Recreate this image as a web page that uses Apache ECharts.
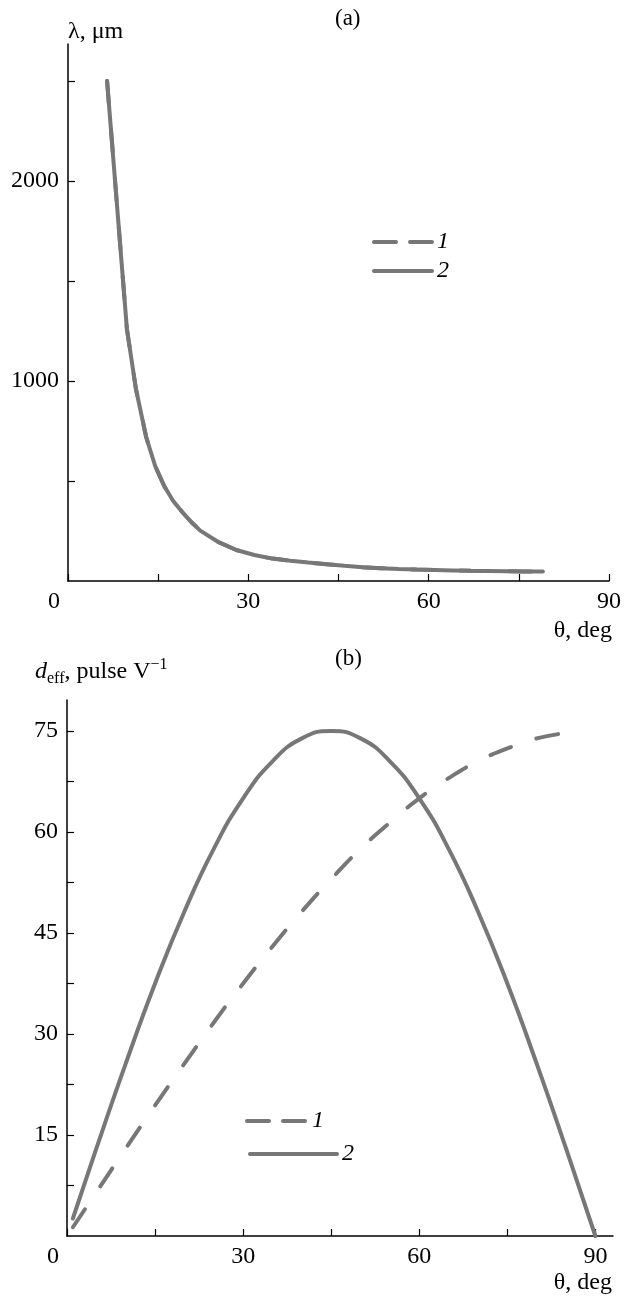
<!DOCTYPE html>
<html>
<head>
<meta charset="utf-8">
<script src="https://cdn.jsdelivr.net/npm/echarts@6/dist/echarts.min.js"></script>
<style>
html, body { margin: 0; padding: 0; background: #fff; }
#chart { width: 624px; height: 1301px; }
</style>
</head>
<body>
<div id="chart"></div>
<script>
// panel (a): lambda vs theta, curves 1 and 2 lie on top of each other
var thetaA = [6.5, 9.8, 11.3, 13, 14.5, 16, 17.5, 19, 20.5, 22, 25, 28, 31, 34, 37, 40, 43, 46, 49, 52, 55, 58, 61, 64, 67, 70, 73, 76, 79];
var lambdaA = [2500, 1260, 960, 720, 575, 475, 400, 345, 295, 252, 195, 155, 130, 112, 101, 92, 84, 76, 69, 64, 60, 57, 55, 53, 51, 50, 49, 48, 48];

// panel (b): d_eff vs theta
var thetaB1 = [1, 5, 10, 15, 20, 25, 30, 35, 40, 45, 50, 55, 60, 65, 70, 75, 80, 86];
var deffB1 = [1.3, 6.5, 13, 19.4, 25.6, 31.7, 37.5, 43, 48.2, 53, 57.5, 61.4, 65, 68, 70.5, 72.4, 73.9, 74.8];
var thetaB2 = [1, 5, 10, 15, 20, 25, 30, 35, 40, 45, 50, 55, 60, 65, 70, 75, 80, 85, 90];
var deffB2 = [2.6, 13, 25.6, 37.5, 48.2, 57.5, 65, 70.5, 73.9, 75, 73.9, 70.5, 65, 57.5, 48.2, 37.5, 25.6, 13, 0];

// ticks and labels
var xTicks = [0, 15, 30, 45, 60, 75, 90];
var xLabels = [0, 30, 60, 90];
var yTicksA = [500, 1000, 1500, 2000, 2500];
var yLabelsA = [1000, 2000];
var yTicksB = [7.5, 15, 22.5, 30, 37.5, 45, 52.5, 60, 67.5, 75];
var yLabelsB = [15, 30, 45, 60, 75];

function pairs(xs, ys) {
    return xs.map(function (x, i) { return [x, ys[i]]; });
}

var serif = 'Liberation Serif';
var grey = '#777777';

function xAxisOpt(gridIndex, max) {
    return {
        type: 'value', gridIndex: gridIndex, min: 0, max: max,
        axisLine: { lineStyle: { color: '#000', width: 1.5 } },
        axisTick: { inside: true, length: 7, customValues: xTicks, lineStyle: { color: '#000', width: 1.2 } },
        axisLabel: {
            customValues: xLabels, margin: 9, fontFamily: serif, fontSize: 24, color: '#000',
            formatter: function (v) { return v === 0 ? '{o|0}' : String(v); },
            rich: { o: { fontFamily: serif, fontSize: 24, color: '#000', padding: [0, 28, 0, 0] } }
        },
        splitLine: { show: false }
    };
}

function yAxisOpt(gridIndex, max, ticks, labels) {
    return {
        type: 'value', gridIndex: gridIndex, min: 0, max: max,
        axisLine: { show: true, lineStyle: { color: '#000', width: 1.5 } },
        axisTick: { show: true, inside: true, length: 7, customValues: ticks, lineStyle: { color: '#000', width: 1.2 } },
        axisLabel: {
            customValues: labels, margin: 9, fontFamily: serif, fontSize: 24, color: '#000',
            formatter: function (v) { return String(v); }
        },
        splitLine: { show: false }
    };
}

var dashed = { color: grey, width: 4, type: [22, 27], cap: 'round' };
var solid = { color: grey, width: 4, cap: 'round' };
// legend samples use a shorter dash so two dashes fit
var legendDash = { color: grey, width: 4, type: [22, 14], cap: 'round' };
var legendSolid = { color: grey, width: 4, type: 'solid', cap: 'round' };
var noMark = { color: 'rgba(0,0,0,0)', borderWidth: 0 };
var legendText = { fontFamily: serif, fontSize: 24, fontStyle: 'italic', color: '#000' };

var chart = echarts.init(document.getElementById('chart'));
chart.setOption({
    animation: false,
    backgroundColor: '#fff',
    title: [
        { text: '(a)', left: 330, top: 2, textStyle: { fontFamily: serif, fontSize: 23, fontWeight: 'normal', color: '#000' } },
        { text: '(b)', left: 330, top: 642, textStyle: { fontFamily: serif, fontSize: 23, fontWeight: 'normal', color: '#000' } }
    ],
    grid: [
        { left: 68, top: 44, width: 543, height: 537 },
        { left: 67, top: 700, width: 546, height: 536 }
    ],
    xAxis: [xAxisOpt(0, 90), xAxisOpt(1, 93)],
    yAxis: [yAxisOpt(0, 2685, yTicksA, yLabelsA), yAxisOpt(1, 79.6, yTicksB, yLabelsB)],
    legend: [
        {
            left: 372, top: 230, orient: 'vertical', padding: 0, itemWidth: 58, itemHeight: 14, itemGap: 5,
            selectedMode: false, textStyle: legendText, itemStyle: noMark,
            data: [
                { name: '1', lineStyle: legendDash, itemStyle: noMark },
                { name: '2', lineStyle: legendSolid, itemStyle: noMark }
            ]
        },
        {
            left: 245, top: 1109, padding: 0, itemWidth: 60, itemHeight: 14,
            selectedMode: false, textStyle: legendText, itemStyle: noMark,
            data: [{ name: '1', lineStyle: legendDash, itemStyle: noMark }]
        },
        {
            left: 248, top: 1142, padding: 0, itemWidth: 87, itemHeight: 14,
            selectedMode: false, textStyle: legendText, itemStyle: noMark,
            data: [{ name: '2', lineStyle: legendSolid, itemStyle: noMark }]
        }
    ],
    graphic: [
        { type: 'text', left: 68, top: 20, style: { text: 'λ, μm', font: '24px "Liberation Serif"', fill: '#000' } },
        { type: 'text', right: 12, top: 619, style: { text: 'θ, deg', font: '24px "Liberation Serif"', fill: '#000' } },
        { type: 'text', right: 12, top: 1271, style: { text: 'θ, deg', font: '24px "Liberation Serif"', fill: '#000' } },
        {
            type: 'text', left: 35, top: 657,
            style: {
                text: '{i|d}{s|eff}{n|, pulse V}{p|−1}',
                rich: {
                    i: { fontFamily: serif, fontSize: 24, fontStyle: 'italic', fill: '#000', lineHeight: 30 },
                    s: { fontFamily: serif, fontSize: 16, fill: '#000', verticalAlign: 'bottom' },
                    n: { fontFamily: serif, fontSize: 24, fill: '#000', lineHeight: 30 },
                    p: { fontFamily: serif, fontSize: 16, fill: '#000', verticalAlign: 'top' }
                }
            }
        }
    ],
    series: [
        { name: '1', type: 'line', xAxisIndex: 0, yAxisIndex: 0, showSymbol: false, symbol: 'none', data: pairs(thetaA, lambdaA), lineStyle: dashed, itemStyle: { color: grey } },
        { name: '2', type: 'line', xAxisIndex: 0, yAxisIndex: 0, showSymbol: false, symbol: 'none', data: pairs(thetaA, lambdaA), lineStyle: solid, itemStyle: { color: grey } },
        { name: '1', type: 'line', xAxisIndex: 1, yAxisIndex: 1, showSymbol: false, symbol: 'none', smooth: true, data: pairs(thetaB1, deffB1), lineStyle: dashed, itemStyle: { color: grey } },
        { name: '2', type: 'line', xAxisIndex: 1, yAxisIndex: 1, showSymbol: false, symbol: 'none', smooth: true, data: pairs(thetaB2, deffB2), lineStyle: solid, itemStyle: { color: grey } }
    ]
});
</script>
</body>
</html>
